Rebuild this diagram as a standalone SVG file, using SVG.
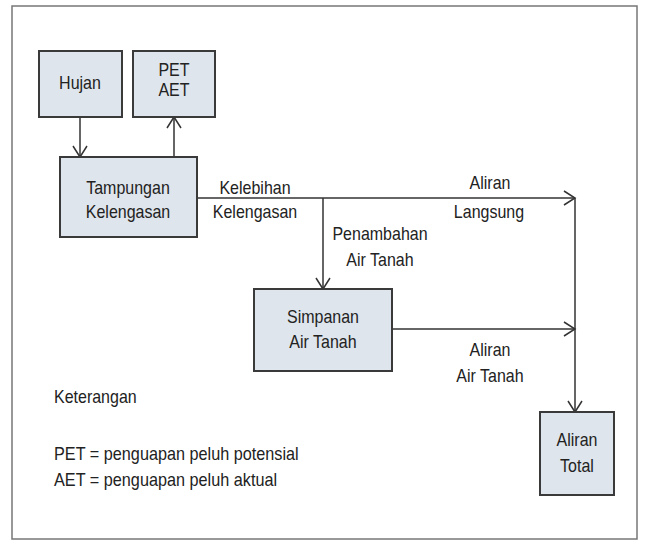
<svg xmlns="http://www.w3.org/2000/svg" width="650" height="542" viewBox="0 0 650 542">
<style>
.box{fill:#dfe5ec;stroke:#3a3a3a;stroke-width:2}
.t{font-family:"Liberation Sans",Arial,sans-serif;font-size:16px;fill:#222;text-anchor:middle}
.l{font-family:"Liberation Sans",Arial,sans-serif;font-size:16px;fill:#222}
.c{fill:none;stroke:#333;stroke-width:1.5}
</style>
<defs>
<marker id="a" markerWidth="14" markerHeight="16" refX="12" refY="8" orient="auto" markerUnits="userSpaceOnUse">
<path d="M1,1 L12,8 L1,15" fill="none" stroke="#333" stroke-width="1.5"/>
</marker>
</defs>
<rect x="0" y="0" width="650" height="542" fill="#fff"/>
<rect x="12" y="6" width="625" height="533" fill="#fff" stroke="#777" stroke-width="1.5"/>
<g id="connectors">
<path class="c" d="M80,117 V157" marker-end="url(#a)"/>
<path class="c" d="M174,157 V117" marker-end="url(#a)"/>
<path class="c" d="M197,198 H575" marker-end="url(#a)"/>
<path class="c" d="M323,198 V289" marker-end="url(#a)"/>
<path class="c" d="M392,329 H575" marker-end="url(#a)"/>
<path class="c" d="M575,198 V412" marker-end="url(#a)"/>
</g>
<g id="hujan">
<rect class="box" x="39" y="51" width="83" height="66"/>
<text class="t" transform="translate(80,89) scale(1,1.15)">Hujan</text>
</g>
<g id="pet">
<rect class="box" x="133" y="51" width="82" height="66"/>
<text class="t" transform="translate(174,76) scale(1,1.15)">PET</text>
<text class="t" transform="translate(174,96) scale(1,1.15)">AET</text>
</g>
<g id="tampungan">
<rect class="box" x="60" y="157" width="137" height="80"/>
<text class="t" transform="translate(128,194) scale(1,1.15)">Tampungan</text>
<text class="t" transform="translate(128,218) scale(1,1.15)">Kelengasan</text>
</g>
<g id="simpanan">
<rect class="box" x="254" y="289" width="138" height="82"/>
<text class="t" transform="translate(323,323) scale(1,1.15)">Simpanan</text>
<text class="t" transform="translate(323,348) scale(1,1.15)">Air Tanah</text>
</g>
<g id="aliran-total">
<rect class="box" x="540" y="412" width="74" height="83"/>
<text class="t" transform="translate(577,446) scale(1,1.15)">Aliran</text>
<text class="t" transform="translate(577,472) scale(1,1.15)">Total</text>
</g>
<g id="labels">
<text class="t" transform="translate(255,194) scale(1,1.15)">Kelebihan</text>
<text class="t" transform="translate(255,218) scale(1,1.15)">Kelengasan</text>
<text class="t" transform="translate(490,189) scale(1,1.15)">Aliran</text>
<text class="t" transform="translate(489,218) scale(1,1.15)">Langsung</text>
<text class="t" transform="translate(380,240) scale(1,1.15)">Penambahan</text>
<text class="t" transform="translate(380,266) scale(1,1.15)">Air Tanah</text>
<text class="t" transform="translate(490,356) scale(1,1.15)">Aliran</text>
<text class="t" transform="translate(490,382) scale(1,1.15)">Air Tanah</text>
<text class="l" transform="translate(54,403) scale(1,1.15)">Keterangan</text>
<text class="l" transform="translate(54,460) scale(1.015,1.15)">PET = penguapan peluh potensial</text>
<text class="l" transform="translate(54,486) scale(1.015,1.15)">AET = penguapan peluh aktual</text>
</g>
</svg>
